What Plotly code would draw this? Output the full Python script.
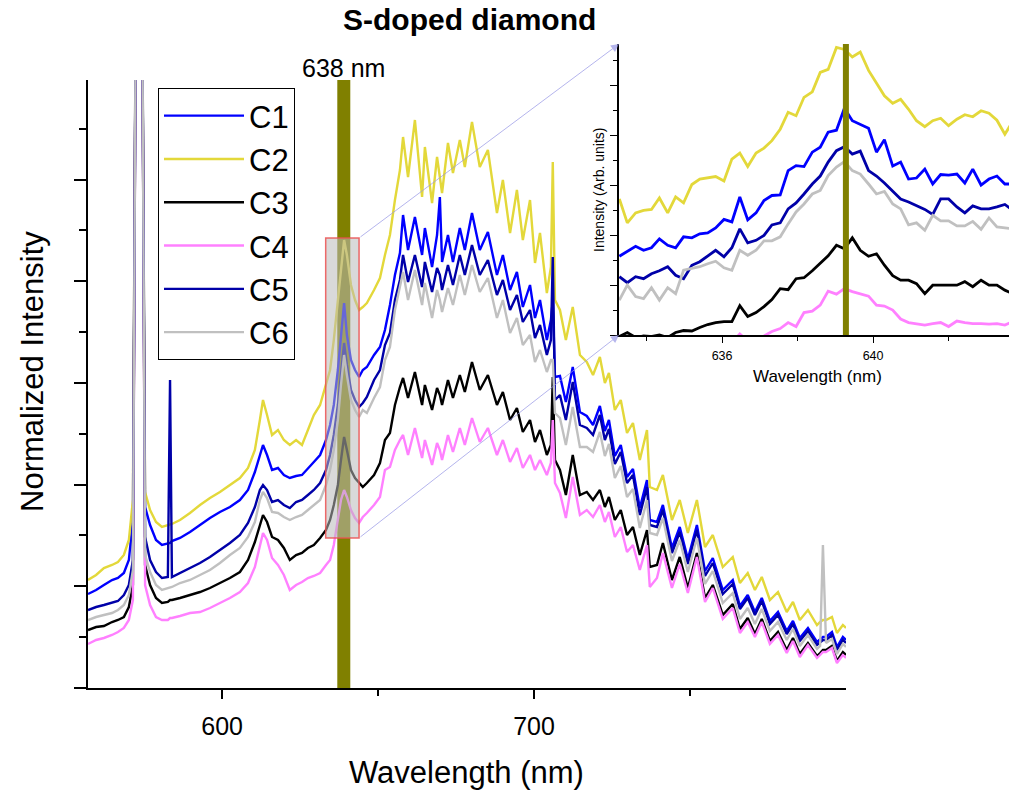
import plotly.graph_objects as go

# ---------------- main spectra (wavelength in nm, normalized intensity) -------------
wavelength = [557.0, 559.6, 562.1, 564.7, 566.6, 568.5, 570.1, 571.4, 572.4, 573.3,
              574.3, 575.3, 576.9, 578.8, 580.7, 582.6, 583.3, 583.9, 586.5, 589.7,
              592.9, 596.1, 599.3, 602.5, 605.7, 608.3, 610.5, 612.1, 613.1, 614.4,
              616.0, 617.9, 619.8, 621.7, 623.7, 625.6, 627.5, 629.4, 631.4, 633.3,
              634.6, 635.8, 637.1, 638.1, 639.1, 640.0, 641.3, 642.6, 643.9, 645.1,
              646.4, 648.7, 650.6, 652.2, 653.8, 655.4, 657.0, 658.0, 659.6, 661.8,
              664.1, 665.0, 667.3, 668.9, 669.8, 670.5, 672.4, 674.0, 676.2, 677.8,
              680.1, 682.6, 685.2, 688.1, 690.0, 692.3, 694.5, 696.4, 698.7, 700.3,
              701.9, 704.1, 705.4, 706.0, 706.7, 708.3, 710.2, 712.4, 714.7, 716.9,
              718.9, 721.1, 722.7, 724.0, 725.9, 727.8, 729.8, 731.7, 733.9, 736.2,
              737.1, 739.4, 741.3, 744.2, 746.7, 749.3, 752.2, 754.8, 757.3, 760.5,
              763.7, 766.0, 768.5, 770.8, 773.0, 775.6, 778.2, 781.0, 783.0, 785.2,
              787.8, 790.7, 791.7, 792.6, 793.6, 795.5, 797.1, 799.0, 800.0]

c1 = [0.94, 0.98, 1.03, 1.08, 1.10, 1.15, 1.28, 1.68, 7.4, 9.9,
      7.4, 1.81, 1.63, 1.48, 1.43, 1.45, 1.45, 1.47, 1.50, 1.56,
      1.63, 1.70, 1.76, 1.81, 1.88, 1.98, 2.16, 2.33, 2.43, 2.33,
      2.18, 2.20, 2.13, 2.10, 2.12, 2.13, 2.20, 2.26, 2.33, 2.48,
      2.63, 2.83, 3.18, 3.48, 3.85, 3.53, 3.28, 3.18, 3.11, 3.18,
      3.21, 3.33, 3.41, 3.58, 3.83, 4.13, 4.35, 4.73, 4.38, 4.71,
      4.33, 4.60, 4.21, 4.53, 4.91, 4.26, 4.53, 4.26, 4.60, 4.38,
      4.75, 4.38, 4.56, 4.13, 4.33, 3.98, 4.16, 3.81, 4.03, 3.70,
      3.88, 3.48, 3.68, 3.88, 3.11, 3.12, 2.86, 3.21, 2.76, 2.72,
      2.63, 2.82, 2.57, 2.68, 2.32, 2.43, 2.11, 2.19, 1.80, 2.08,
      1.68, 1.66, 1.83, 1.40, 1.61, 1.29, 1.63, 1.17, 1.30, 0.98,
      1.08, 0.82, 0.93, 0.76, 0.90, 0.67, 0.76, 0.57, 0.67, 0.50,
      0.60, 0.46, 0.49, 0.51, 0.51, 0.56, 0.41, 0.51, 0.48]

c2 = [1.08, 1.13, 1.20, 1.23, 1.26, 1.33, 1.48, 1.88, 7.4, 9.9,
      7.4, 1.96, 1.78, 1.66, 1.61, 1.63, 1.63, 1.64, 1.68, 1.75,
      1.83, 1.90, 1.96, 2.03, 2.10, 2.20, 2.38, 2.68, 2.88, 2.73,
      2.53, 2.58, 2.48, 2.43, 2.48, 2.43, 2.58, 2.73, 2.83, 3.03,
      3.18, 3.48, 3.88, 4.23, 4.48, 4.33, 4.03, 3.88, 3.78, 3.81,
      3.85, 3.98, 4.10, 4.33, 4.53, 4.88, 5.18, 5.51, 5.11, 5.68,
      4.91, 5.41, 4.85, 5.31, 5.13, 4.95, 5.45, 5.15, 5.48, 5.21,
      5.66, 5.21, 5.38, 4.75, 5.08, 4.55, 4.98, 4.48, 4.88, 4.25,
      4.55, 3.95, 4.21, 5.26, 3.88, 3.78, 3.48, 3.81, 3.33, 3.26,
      3.13, 3.31, 3.05, 3.15, 2.78, 2.88, 2.55, 2.65, 2.28, 2.58,
      2.01, 1.98, 2.13, 1.68, 1.88, 1.55, 1.88, 1.41, 1.53, 1.21,
      1.31, 1.05, 1.15, 0.98, 1.11, 0.88, 0.96, 0.76, 0.86, 0.68,
      0.78, 0.63, 0.66, 0.68, 0.68, 0.71, 0.55, 0.63, 0.60]

c3 = [0.58, 0.61, 0.62, 0.66, 0.68, 0.71, 0.81, 1.03, 7.4, 9.9,
      7.4, 1.23, 1.03, 0.90, 0.85, 0.86, 0.88, 0.88, 0.90, 0.93,
      0.96, 1.00, 1.05, 1.10, 1.16, 1.28, 1.46, 1.63, 1.73, 1.66,
      1.51, 1.48, 1.40, 1.28, 1.33, 1.35, 1.40, 1.43, 1.50, 1.58,
      1.68, 1.83, 2.03, 2.28, 2.51, 2.38, 2.18, 2.10, 2.05, 2.01,
      2.05, 2.13, 2.25, 2.48, 2.55, 2.83, 3.01, 3.10, 2.90, 3.16,
      2.83, 3.03, 2.78, 3.00, 2.93, 2.83, 3.08, 2.90, 3.13, 2.96,
      3.26, 2.98, 3.13, 2.83, 2.96, 2.68, 2.80, 2.56, 2.68, 2.46,
      2.58, 2.33, 2.43, 3.11, 2.28, 2.18, 1.93, 2.33, 1.93, 1.96,
      1.88, 1.98, 1.81, 1.91, 1.68, 1.78, 1.53, 1.61, 1.33, 1.58,
      1.21, 1.23, 1.45, 1.08, 1.31, 1.00, 1.35, 0.90, 1.03, 0.73,
      0.84, 0.59, 0.70, 0.54, 0.69, 0.47, 0.56, 0.38, 0.50, 0.34,
      0.45, 0.32, 0.35, 0.38, 0.38, 0.42, 0.27, 0.36, 0.33]

c4 = [0.44, 0.48, 0.50, 0.53, 0.56, 0.60, 0.68, 0.88, 7.4, 9.9,
      7.4, 1.03, 0.83, 0.71, 0.68, 0.68, 0.70, 0.70, 0.72, 0.75,
      0.76, 0.80, 0.85, 0.90, 0.96, 1.05, 1.21, 1.43, 1.55, 1.48,
      1.30, 1.23, 1.13, 0.98, 1.03, 1.06, 1.10, 1.12, 1.15, 1.23,
      1.28, 1.43, 1.68, 1.88, 1.98, 1.91, 1.78, 1.70, 1.65, 1.71,
      1.75, 1.83, 1.91, 2.18, 2.21, 2.38, 2.48, 2.53, 2.33, 2.60,
      2.30, 2.48, 2.23, 2.45, 2.38, 2.28, 2.53, 2.36, 2.60, 2.43,
      2.70, 2.46, 2.60, 2.33, 2.48, 2.26, 2.40, 2.20, 2.33, 2.18,
      2.28, 2.13, 2.25, 2.68, 2.05, 1.95, 1.70, 2.11, 1.73, 1.78,
      1.71, 1.83, 1.66, 1.76, 1.51, 1.61, 1.36, 1.43, 1.18, 1.43,
      1.01, 1.10, 1.35, 1.00, 1.24, 0.95, 1.31, 0.86, 1.00, 0.69,
      0.80, 0.55, 0.66, 0.51, 0.66, 0.44, 0.53, 0.35, 0.47, 0.31,
      0.43, 0.30, 0.33, 0.36, 0.36, 0.40, 0.25, 0.33, 0.30]

c5 = [0.78, 0.81, 0.83, 0.85, 0.87, 0.93, 1.03, 1.28, 7.4, 9.9,
      7.4, 1.51, 1.28, 1.16, 1.10, 1.11, 3.08, 1.11, 1.15, 1.20,
      1.25, 1.31, 1.38, 1.45, 1.53, 1.65, 1.81, 1.98, 2.03, 1.98,
      1.86, 1.88, 1.83, 1.80, 1.86, 1.88, 1.93, 1.98, 2.05, 2.18,
      2.33, 2.53, 2.83, 3.13, 3.45, 3.23, 2.98, 2.88, 2.81, 2.85,
      2.91, 3.08, 3.18, 3.43, 3.55, 3.88, 4.08, 4.33, 4.06, 4.33,
      4.01, 4.26, 3.96, 4.20, 4.13, 3.98, 4.23, 4.03, 4.33, 4.13,
      4.43, 4.13, 4.28, 3.93, 4.08, 3.78, 3.93, 3.66, 3.78, 3.50,
      3.63, 3.33, 3.48, 4.31, 2.88, 2.93, 2.68, 3.06, 2.63, 2.60,
      2.53, 2.73, 2.48, 2.59, 2.24, 2.36, 2.05, 2.13, 1.73, 2.01,
      1.63, 1.61, 1.78, 1.35, 1.56, 1.24, 1.58, 1.12, 1.25, 0.94,
      1.04, 0.79, 0.90, 0.73, 0.87, 0.64, 0.73, 0.54, 0.64, 0.47,
      0.57, 0.43, 0.46, 0.48, 0.48, 0.53, 0.38, 0.48, 0.45]

c6 = [0.68, 0.71, 0.73, 0.75, 0.78, 0.83, 0.93, 1.18, 7.4, 9.9,
      7.4, 1.33, 1.16, 1.03, 0.98, 1.00, 1.00, 1.01, 1.05, 1.08,
      1.13, 1.18, 1.25, 1.33, 1.40, 1.51, 1.66, 1.88, 1.96, 1.90,
      1.76, 1.75, 1.71, 1.68, 1.71, 1.73, 1.78, 1.83, 1.88, 2.03,
      2.18, 2.38, 2.68, 3.03, 3.33, 3.13, 2.88, 2.78, 2.71, 2.78,
      2.75, 2.90, 3.01, 3.28, 3.41, 3.78, 4.01, 4.16, 3.88, 4.18,
      3.83, 4.05, 3.70, 3.98, 3.88, 3.76, 4.00, 3.83, 4.13, 3.93,
      4.23, 3.96, 4.10, 3.70, 3.88, 3.55, 3.70, 3.43, 3.53, 3.26,
      3.38, 3.16, 3.28, 3.28, 2.75, 2.70, 2.43, 2.81, 2.41, 2.41,
      2.36, 2.56, 2.32, 2.44, 2.10, 2.22, 1.91, 1.99, 1.60, 1.88,
      1.55, 1.53, 1.70, 1.27, 1.48, 1.16, 1.50, 1.04, 1.17, 0.85,
      0.95, 0.69, 0.80, 0.64, 0.79, 0.57, 0.66, 0.48, 0.59, 0.42,
      0.53, 0.39, 0.42, 1.43, 0.45, 0.49, 0.34, 0.44, 0.41]

# ---------------- inset (zoom around 638 nm, arbitrary units) ----------------
inset_wl = [633.28, 633.49, 633.71, 633.92, 634.13, 634.34, 634.56, 634.77, 634.98, 635.20,
            635.41, 635.62, 635.83, 636.05, 636.26, 636.47, 636.68, 636.90, 637.11, 637.32,
            637.54, 637.75, 637.96, 638.17, 638.39, 638.60, 638.81, 639.03, 639.24, 639.45,
            639.66, 639.88, 640.09, 640.30, 640.52, 640.73, 640.94, 641.15, 641.37, 641.58,
            641.79, 642.00, 642.22, 642.43, 642.64, 642.86, 643.07, 643.28, 643.49, 643.71]

ins_c1 = [1.58, 1.67, 1.78, 1.70, 1.75, 1.93, 1.80, 1.75, 1.97, 1.95,
          2.03, 2.05, 2.15, 2.32, 2.27, 2.77, 2.31, 2.45, 2.70, 2.80,
          2.81, 3.30, 3.40, 3.38, 3.67, 3.77, 4.07, 4.11, 4.55, 4.30,
          4.23, 4.15, 3.67, 3.92, 3.39, 3.47, 3.13, 3.15, 3.33, 3.03,
          3.22, 3.21, 3.23, 3.05, 3.33, 3.01, 3.13, 3.19, 3.03, 3.03]
ins_c2 = [2.73, 2.25, 2.45, 2.50, 2.52, 2.75, 2.45, 2.77, 2.65, 3.02,
          3.13, 3.15, 3.18, 3.09, 3.53, 3.65, 3.38, 3.65, 3.75, 3.90,
          4.13, 4.47, 4.40, 4.77, 4.88, 5.27, 5.33, 5.77, 5.73, 5.58,
          5.68, 5.31, 5.05, 4.80, 4.65, 4.73, 4.53, 4.30, 4.18, 4.30,
          4.35, 4.20, 4.33, 4.42, 4.38, 4.50, 4.45, 4.31, 4.03, 4.30]
ins_c3 = [-0.03, 0.05, -0.05, -0.02, -0.03, 0.00, -0.05, 0.05, 0.09, 0.08,
          0.15, 0.21, 0.25, 0.27, 0.27, 0.59, 0.37, 0.45, 0.57, 0.71,
          0.93, 0.91, 1.13, 1.15, 1.29, 1.43, 1.59, 1.80, 1.73, 1.95,
          1.70, 1.58, 1.63, 1.40, 1.19, 1.10, 1.10, 1.03, 0.83, 1.00,
          1.00, 1.00, 1.00, 1.07, 0.97, 1.10, 1.00, 1.00, 0.90, 0.83]
ins_c4 = [-0.60, -0.60, -0.55, -0.55, -0.50, -0.45, -0.45, -0.40, -0.40, -0.35,
          -0.30, -0.30, -0.25, -0.20, -0.15, 0.02, -0.12, -0.08, -0.02, 0.07,
          0.13, 0.25, 0.17, 0.45, 0.48, 0.60, 0.88, 0.82, 0.93, 0.87,
          0.83, 0.78, 0.60, 0.58, 0.50, 0.32, 0.25, 0.23, 0.20, 0.23,
          0.25, 0.17, 0.28, 0.25, 0.23, 0.23, 0.22, 0.23, 0.20, 0.27]
ins_c5 = [1.17, 1.05, 1.17, 1.13, 1.23, 1.29, 1.37, 1.20, 1.13, 1.40,
          1.47, 1.59, 1.70, 1.57, 1.75, 2.13, 1.85, 1.90, 2.00, 2.21,
          2.25, 2.53, 2.65, 2.83, 3.03, 3.19, 3.47, 3.70, 3.78, 3.63,
          3.69, 3.30, 3.19, 3.05, 2.89, 2.73, 2.67, 2.59, 2.52, 2.42,
          2.73, 2.73, 2.57, 2.45, 2.59, 2.53, 2.53, 2.57, 2.62, 2.50]
ins_c6 = [0.70, 1.00, 0.77, 0.73, 0.95, 0.70, 0.95, 0.83, 1.30, 1.33,
          1.37, 1.43, 1.48, 1.35, 1.30, 1.70, 1.60, 1.70, 1.89, 1.89,
          1.97, 2.23, 2.47, 2.63, 2.83, 2.90, 3.20, 3.37, 3.48, 3.30,
          3.23, 3.03, 2.83, 2.88, 2.63, 2.53, 2.21, 2.25, 2.10, 2.40,
          2.29, 2.29, 2.19, 2.19, 2.28, 2.12, 2.35, 2.17, 2.15, 2.13]

names = ["C1", "C2", "C3", "C4", "C5", "C6"]
colors = ["#0000ff", "#e3d83a", "#000000", "#ff80ff", "#0000a8", "#c0c0c0"]
main_series = [c1, c2, c3, c4, c5, c6]
inset_series = [ins_c1, ins_c2, ins_c3, ins_c4, ins_c5, ins_c6]

zpl_main = 639.0       # position of the 638 nm marker band
zpl_inset = 639.28
zoom_box = dict(x0=633.2, x1=643.9, y0=1.50, y1=4.50)

FONT = "Arial, Liberation Sans, sans-serif"
W, H = 1009, 790

fig = go.Figure()
for n, col, ys in zip(names, colors, main_series):
    fig.add_trace(go.Scatter(x=wavelength, y=ys, mode="lines", name=n,
                             legendgroup=n, line=dict(color=col, width=2.4),
                             xaxis="x", yaxis="y"))
for n, col, ys in zip(names, colors, inset_series):
    fig.add_trace(go.Scatter(x=inset_wl, y=ys, mode="lines", name=n,
                             legendgroup=n, showlegend=False,
                             line=dict(color=col, width=2.8),
                             xaxis="x2", yaxis="y2"))

fig.update_layout(
    width=W, height=H, margin=dict(l=0, r=0, t=0, b=0),
    paper_bgcolor="white", plot_bgcolor="rgba(0,0,0,0)",
    font=dict(family=FONT, color="black"),
    xaxis=dict(domain=[88 / W, 846 / W], range=[557, 800], anchor="y",
               showgrid=False, zeroline=False, showline=True, linewidth=2, linecolor="black",
               ticks="outside", ticklen=9, tickwidth=2, tickcolor="black",
               tickvals=[600, 700], ticktext=["600", "700"],
               tickfont=dict(size=25, family=FONT), ticklabelstandoff=6,
               minor=dict(tickvals=[650, 750], ticks="outside", ticklen=6,
                          tickwidth=2, tickcolor="black")),
    yaxis=dict(domain=[1 - 688 / H, 1 - 80 / H], range=[0, 6.08], anchor="x",
               showgrid=False, zeroline=False, showline=True, linewidth=2, linecolor="black",
               ticks="outside", ticklen=12, tickwidth=2, tickcolor="black",
               tick0=0, dtick=1.017, showticklabels=False,
               minor=dict(tick0=0, dtick=0.5085, ticks="outside", ticklen=7,
                          tickwidth=2, tickcolor="black")),
    xaxis2=dict(domain=[619 / W, 1.0], range=[633.27, 643.6], anchor="y2",
                showgrid=False, zeroline=False, showline=True, linewidth=1.5, linecolor="black",
                ticks="outside", ticklen=6, tickwidth=1.2, tickcolor="black",
                tickvals=[636, 640], ticktext=["636", "640"],
                tickfont=dict(size=12.5, family=FONT), ticklabelstandoff=2,
                minor=dict(tickvals=[634, 638, 642], ticks="outside", ticklen=4,
                           tickwidth=1.2, tickcolor="black")),
    yaxis2=dict(domain=[1 - 335 / H, 1 - 44 / H], range=[0, 5.84], anchor="x2",
                showgrid=False, zeroline=False, showline=True, linewidth=1.5, linecolor="black",
                ticks="outside", ticklen=7, tickwidth=1.2, tickcolor="black",
                tick0=0, dtick=1, showticklabels=False,
                minor=dict(tick0=0, dtick=0.5, ticks="outside", ticklen=4,
                           tickwidth=1.2, tickcolor="black")),
    legend=dict(x=158 / W, y=1 - 88 / H, xanchor="left", yanchor="top",
                bgcolor="white", bordercolor="black", borderwidth=1,
                font=dict(size=31, family=FONT), itemwidth=80,
                tracegroupgap=2, traceorder="normal"),
    showlegend=True,
)

# 638 nm band (main, under the curves) and inset band (over)
fig.add_shape(type="line", xref="x", yref="y domain", x0=zpl_main, x1=zpl_main,
              y0=0, y1=1, line=dict(color="#808000", width=13), layer="below")
fig.add_shape(type="line", xref="x2", yref="y2 domain", x0=zpl_inset, x1=zpl_inset,
              y0=0, y1=1, line=dict(color="#808000", width=6), layer="above")
# zoom box
fig.add_shape(type="rect", xref="x", yref="y", **zoom_box,
              fillcolor="rgba(185,185,185,0.55)",
              line=dict(color="rgba(235,80,80,0.85)", width=1.5), layer="above")

# connector arrows from the zoom box to the inset corners
arrow_col = "rgba(150,150,230,0.7)"
fig.add_annotation(xref="x2 domain", yref="y2 domain", x=0, y=1, axref="pixel", ayref="pixel",
                   ax=-260, ay=194, showarrow=True, arrowhead=2, arrowsize=1.6,
                   arrowwidth=1, arrowcolor=arrow_col, text="")
fig.add_annotation(xref="x2 domain", yref="y2 domain", x=0, y=0, axref="pixel", ayref="pixel",
                   ax=-260, ay=203, showarrow=True, arrowhead=2, arrowsize=1.6,
                   arrowwidth=1, arrowcolor=arrow_col, text="")

def txt(s, x, y, size, angle=0, bold=False):
    fig.add_annotation(xref="paper", yref="paper", x=x / W, y=1 - y / H,
                       text=f"<b>{s}</b>" if bold else s, showarrow=False,
                       xanchor="center", yanchor="middle", textangle=angle,
                       font=dict(size=size, family=FONT, color="black"))

txt("S-doped diamond", 469, 19, 30, bold=True)
txt("638 nm", 343, 68, 25)
txt("Wavelength (nm)", 466, 772, 31)
txt("Normalized Intensity", 32, 372, 31, angle=-90)
txt("Wavelength (nm)", 817, 376, 17)
txt("Intensity (Arb. units)", 599, 190, 14, angle=-90)

fig.write_html("out.html")
